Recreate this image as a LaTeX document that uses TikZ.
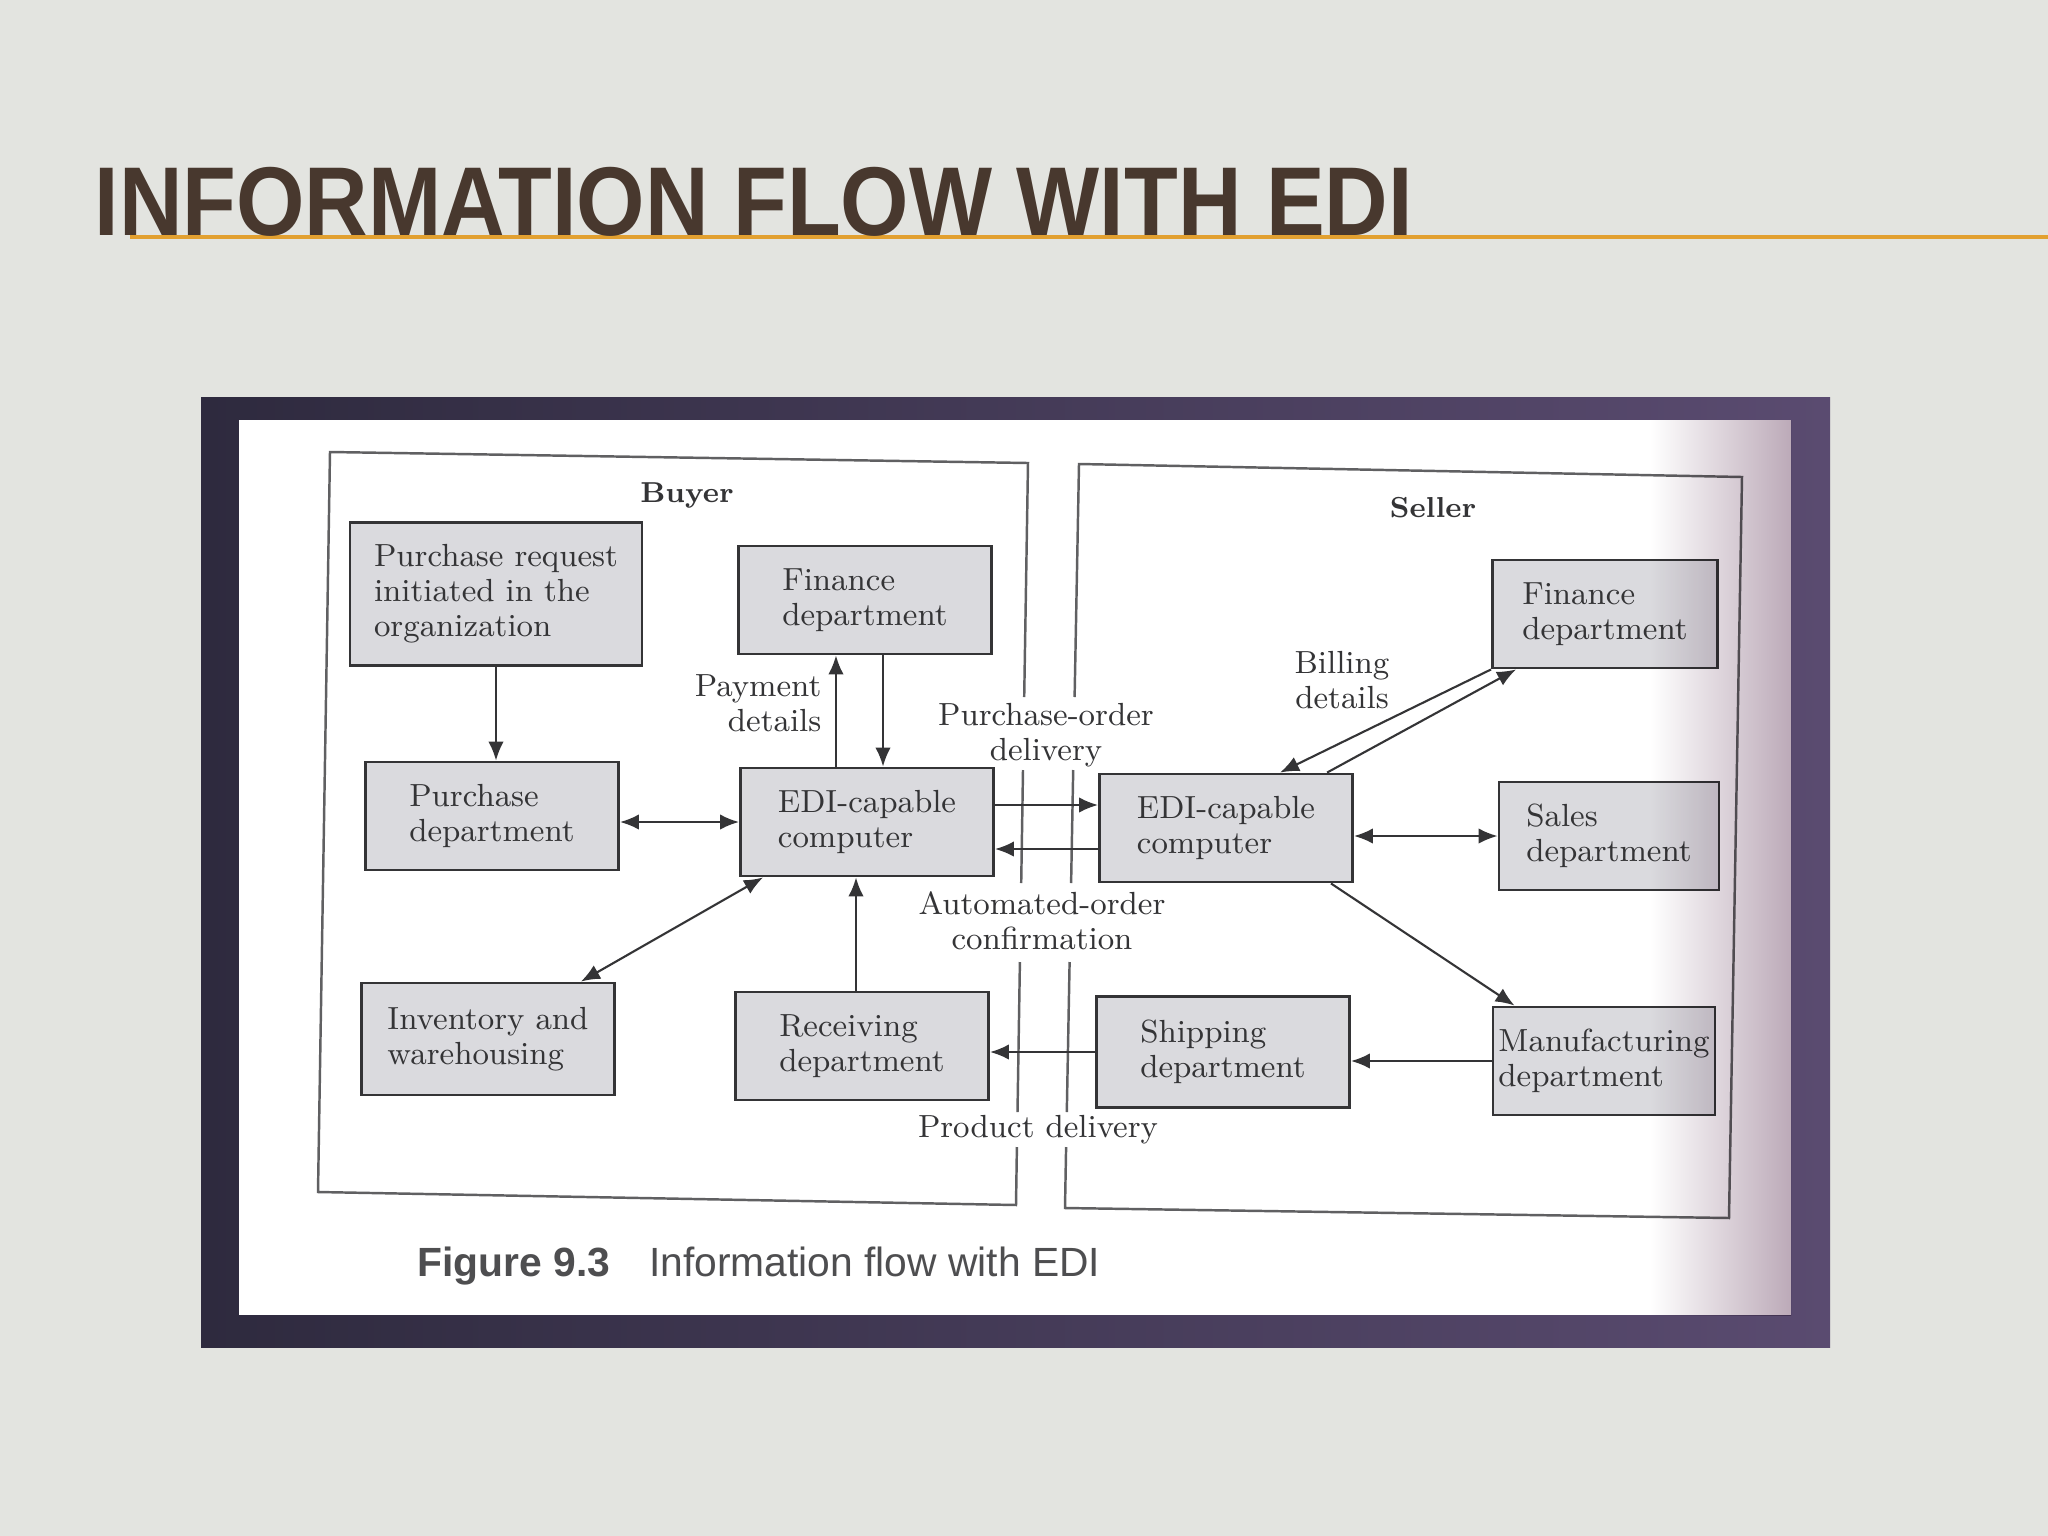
\documentclass[tikz,border=0pt]{standalone}
\usepackage{fontspec}
\newfontfamily\titlefont{Liberation Sans}[FakeStretch=0.9]
\newfontfamily\capfont{Liberation Sans}
\usetikzlibrary{arrows.meta}

\definecolor{slidebg}{RGB}{227,228,224}
\definecolor{titlebrown}{RGB}{72,56,46}
\definecolor{ruleorange}{RGB}{226,160,48}
\definecolor{framedark}{RGB}{46,42,62}
\definecolor{framepurple}{RGB}{90,75,112}
\definecolor{pagepink}{RGB}{234,222,228}
\definecolor{pagemauve}{RGB}{188,170,184}
\definecolor{boxgray}{RGB}{218,218,222}
\definecolor{inkgray}{RGB}{52,52,54}
\definecolor{linegray}{RGB}{96,96,98}
\definecolor{capgray}{RGB}{78,78,80}

\begin{document}
\begin{tikzpicture}[
        x=0.01cm, y=-0.01cm,
        every path/.style={>={Latex[length=5.4pt,width=4.4pt]}},
        dept/.style={draw=inkgray, fill=boxgray, line width=0.8pt, align=left,
            text=inkgray, font=\fontsize{9.1}{10}\selectfont,
            minimum width=2.53cm, minimum height=1.08cm, inner sep=0pt},
        note/.style={text=inkgray, font=\fontsize{9.1}{10}\selectfont, inner sep=0pt},
        side/.style={text=inkgray, font=\fontsize{8.2}{10}\selectfont\bfseries, inner sep=0pt},
        flow/.style={draw=inkgray, line width=0.6pt},
        frame/.style={draw=linegray, line width=0.7pt}
        ]

        % slide
        \useasboundingbox (0,0) rectangle (2048,1536);
        \fill[slidebg] (0,0) rectangle (2048,1536);
        \draw[ruleorange, line width=1pt] (130,237) -- (2048,237);
        \node[anchor=base west, inner sep=0pt, text=titlebrown,
            font=\titlefont\bfseries\fontsize{27.8}{30}\selectfont] (title) at (94,235) {INFORMATION FLOW WITH EDI};

        % photo of the page
        \shade[left color=framedark, right color=framepurple] (201,397) rectangle (1830,1347);
        \fill[white] (239,420) rectangle (1791,1315);

        % buyer and seller frames
        \draw[frame] (1024.2,697) -- (1028,463) -- (330,452) -- (318,1192) -- (1016,1205) -- (1016.9,1147);
        \draw[frame] (1023,770) -- (1021.2,883);
        \draw[frame] (1019.9,962) -- (1017.5,1112);

        \draw[frame] (1074.6,697) -- (1079,464) -- (1742,477) -- (1729,1218) -- (1065,1208) -- (1066.1,1147);
        \draw[frame] (1073.2,770) -- (1071.1,883);
        \draw[frame] (1069.6,962) -- (1066.8,1112);

        % nodes
        \node[side] (blab) at (687,495) {Buyer};
        \node[side] (slab) at (1433,508) {Seller};

        \node[dept, minimum width=2.92cm, minimum height=1.43cm] (preq) at (496,594) {Purchase request\\initiated in the\\organization};
        \node[dept] (finb) at (865,600) {Finance\\department};
        \node[dept] (pdept) at (492,816) {Purchase\\department};
        \node[dept] (edib) at (867,822) {EDI-capable\\computer};
        \node[dept, minimum height=1.12cm] (inv) at (488,1039) {Inventory and\\warehousing};
        \node[dept] (recv) at (862,1046) {Receiving\\department};

        \node[dept, minimum width=2.25cm] (fins) at (1605,614) {Finance\\department};
        \node[dept] (edis) at (1226,828) {EDI-capable\\computer};
        \node[dept, minimum width=2.2cm] (sales) at (1609,836) {Sales\\department};
        \node[dept, minimum height=1.11cm] (ship) at (1223,1052) {Shipping\\department};
        \node[dept, minimum width=2.22cm] (manu) at (1604,1061) {Manufacturing\\department};

        \node[note, align=right, anchor=east] (paylab) at (822,703) {Payment\\details};
        \node[note, align=center] (polab) at (1046,735) {Purchase-order\\delivery};
        \node[note, align=center] (aolab) at (1042,921) {Automated-order\\confirmation};
        \node[note] (pdlab) at (1038,1130) {Product delivery};
        \node[note, align=center] (bilab) at (1342,680) {Billing\\details};

        % edges
        \draw[flow,->] (preq.south) -- (preq.south |- pdept.north);
        \draw[flow,<->] (pdept.east |- edib.west) -- (edib.west);

        \coordinate (payup) at ([xshift=-0.31cm]edib.north);
        \coordinate (paydn) at ([xshift=0.16cm]edib.north);
        \draw[flow,->] (payup) -- (payup |- finb.south);
        \draw[flow,->] (paydn |- finb.south) -- (paydn);

        \coordinate (poout) at ([yshift=0.17cm]edib.east);
        \coordinate (aoin) at ([yshift=-0.27cm]edib.east);
        \draw[flow,->] (poout) -- (poout -| edis.west);
        \draw[flow,->] (aoin -| edis.west) -- (aoin);

        \draw[flow,<->] (edis.east |- sales.west) -- (sales.west);
        \draw[flow,->] (fins.south west) -- ([xshift=0.54cm]edis.north);
        \draw[flow,->] ([xshift=1.01cm]edis.north) -- ([xshift=0.25cm]fins.south west);
        \draw[flow,->] ([xshift=-0.23cm]edis.south east) -- ([xshift=0.23cm]manu.north west);

        \draw[flow,->] (manu.west) -- (manu.west -| ship.east);
        \draw[flow,->] (ship.west) -- (ship.west -| recv.east);

        \coordinate (rcvup) at ([xshift=-0.06cm]recv.north);
        \draw[flow,->] (rcvup) -- (rcvup |- edib.south);
        \draw[flow,<->] ([xshift=-0.35cm]inv.north east) -- ([xshift=0.24cm]edib.south west);

        % caption
        \node[anchor=base west, inner sep=0pt, text=capgray,
            font=\capfont\fontsize{11.6}{13}\selectfont] (cap) at (417,1276) {\textbf{Figure 9.3}\hspace{11pt}Information flow with EDI};

        % curl of the page at the right
        \shade[blend mode=multiply, left color=white, middle color=pagepink, right color=pagemauve] (1650,420) rectangle (1791,1315);

    \end{tikzpicture}
\end{document}
